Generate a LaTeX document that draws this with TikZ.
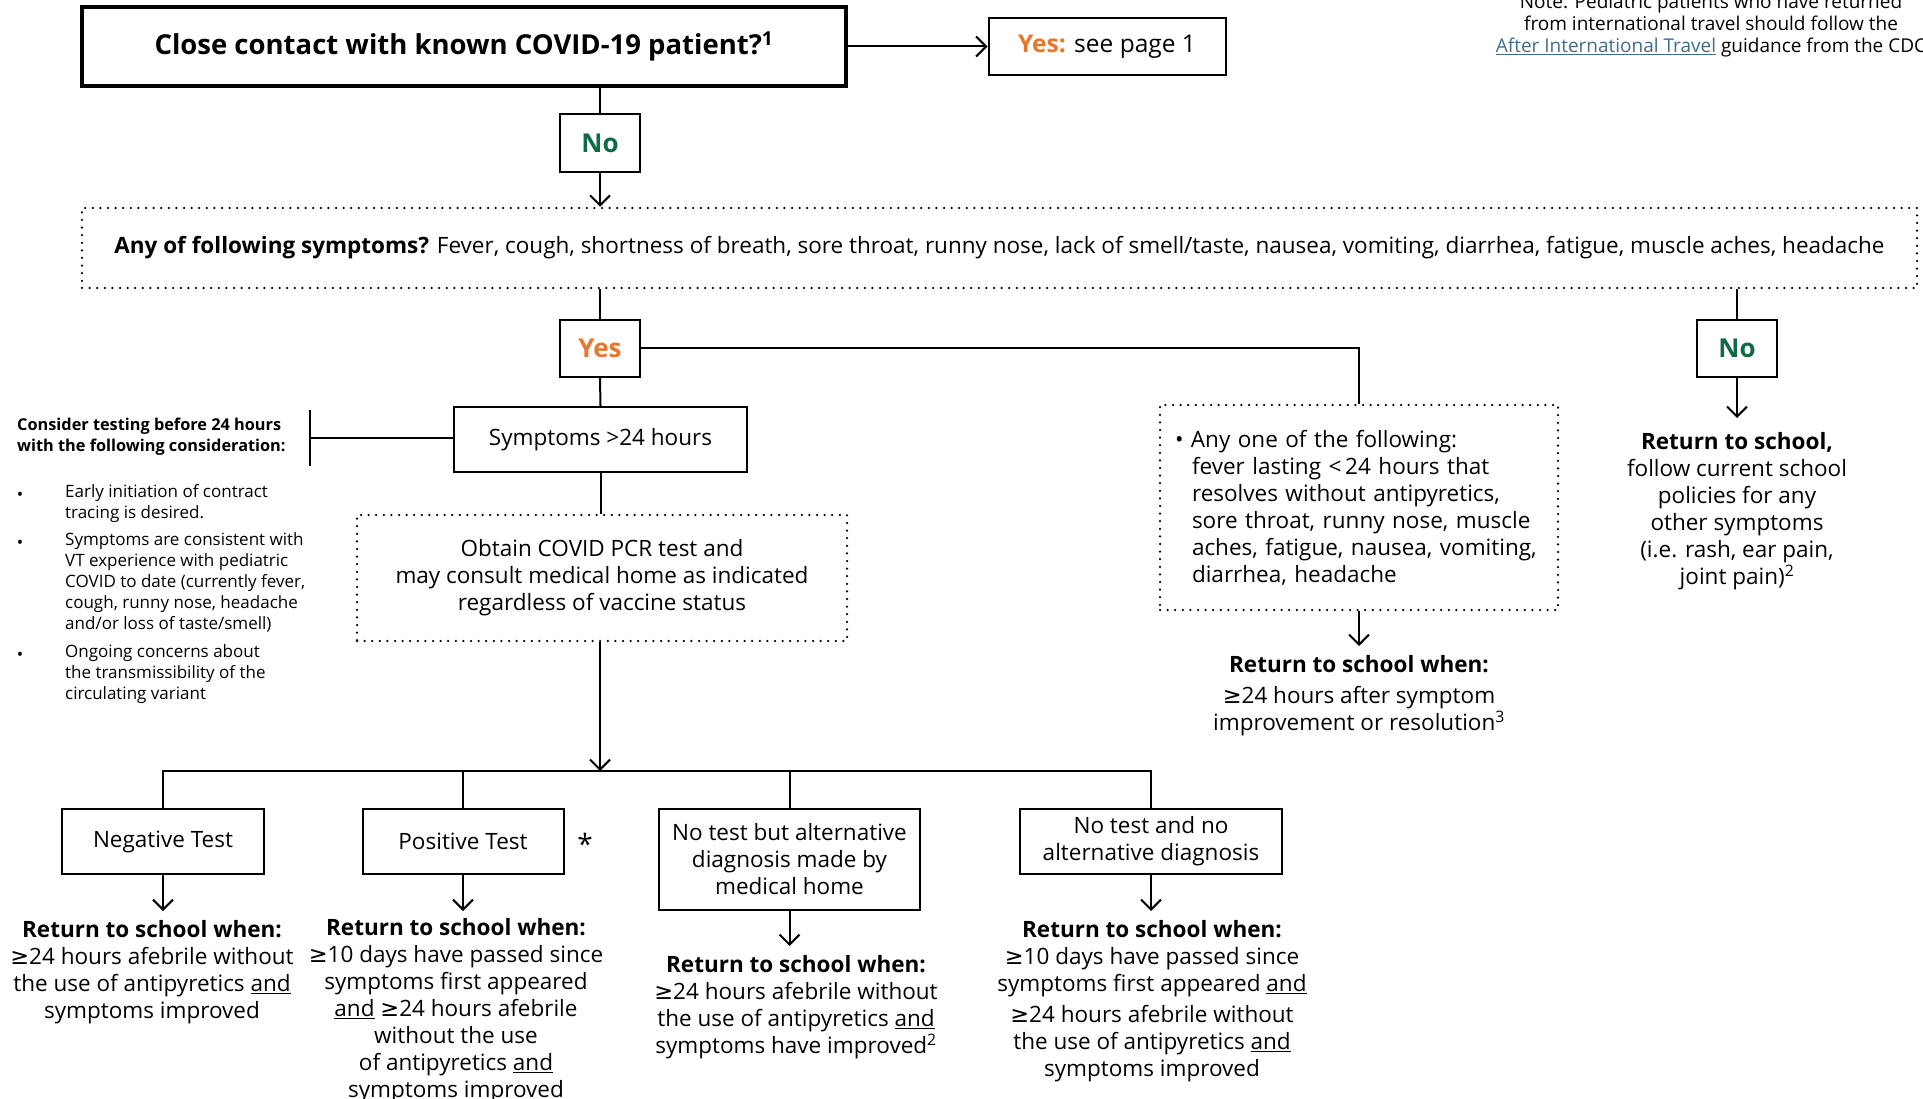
\documentclass[tikz,border=0pt]{standalone}
\usepackage{fontspec}
\setmainfont{Open Sans}
\newfontfamily\symfont{DejaVu Sans}
\usetikzlibrary{arrows.meta}
\definecolor{yesorange}{HTML}{E8762D}
\definecolor{nogreen}{HTML}{0E6B43}
\definecolor{linkblue}{HTML}{3E6D8E}
\newcommand{\atleast}{{\symfont ≥}}
\newcommand{\und}{\underline{and}}
\newcommand{\ind}{\hspace*{17pt}}

\begin{document}
\begin{tikzpicture}[x=1pt,y=-1pt,
  box/.style={draw,line width=2pt,align=center,inner sep=0pt,font=\fontsize{22.5}{27}\selectfont},
  dotbox/.style={draw,line width=2.5pt,dash pattern=on 0pt off 7.6pt,line cap=round,align=center,inner sep=0pt,font=\fontsize{22.5}{27}\selectfont},
  txt/.style={align=center,inner sep=0pt,font=\fontsize{22.5}{27}\selectfont},
  smalltxt/.style={align=left,inner sep=0pt,font=\fontsize{17}{21}\selectfont},
  conn/.style={line width=2pt},
  arr/.style={line width=2pt,-{Straight Barb[length=10pt,width=20pt]}}]
 \path[use as bounding box,fill=white] (0,0) rectangle (1923,1099);
 % first question
 \node[box,line width=4pt,minimum width=764,minimum height=79,font=\bfseries\fontsize{27.5}{30}\selectfont] (close) at (464,46.5) {Close contact with known COVID-19 patient?\textsuperscript{1}};
 \node[box,minimum width=237,minimum height=57,font=\fontsize{24.5}{26}\selectfont] (seep) at (1107,46.5) {\textcolor{yesorange}{\textbf{Yes:}} see page 1};
 \node[txt,font=\fontsize{19}{22}\selectfont] (note) at (1711,25.7) {Note: Pediatric patients who have returned\\from international travel should follow the\\\textcolor{linkblue}{\underline{After International Travel}} guidance from the CDC};
 \node[box,minimum width=80,minimum height=58,font=\bfseries\fontsize{26}{26}\selectfont,text=nogreen] (no) at (600,143) {No};
 \draw[arr] (close.east) -- (seep.west);
 \draw[conn] (close.south -| no.north) -- (no.north);
%
 \node[dotbox,minimum width=1835,minimum height=80] (symq) at (999.5,248) {\textbf{Any of following symptoms?} Fever, cough, shortness of breath, sore throat, runny nose, lack of smell/taste, nausea, vomiting, diarrhea, fatigue, muscle aches, headache};
 \draw[arr] (no.south) -- (no.south |- symq.north);
 \node[box,minimum width=80,minimum height=57,font=\bfseries\fontsize{26}{26}\selectfont,text=yesorange] (yes) at (600,348.5) {Yes};
 \node[box,minimum width=80,minimum height=57,font=\bfseries\fontsize{26}{26}\selectfont,text=nogreen] (noright) at (1737,348.5) {No};
 \draw[conn] (symq.south -| yes.north) -- (yes.north);
 \draw[conn] (symq.south -| noright.north) -- (noright.north);
%
 \node[box,minimum width=293,minimum height=65] (sym) at (600.5,439.5) {Symptoms >24 hours};
 \draw[conn] (yes.south) -- (sym.north);
 \coordinate (tbar) at (310,438);
 \draw[conn] (sym.west |- tbar) -- (tbar);
 \draw[conn] ([yshift=-28pt]tbar) -- ([yshift=28pt]tbar);
 \node[smalltxt,font=\bfseries\fontsize{16.3}{21}\selectfont,anchor=west] (consider) at (17,437) {Consider testing before 24 hours\\with the following consideration:};
 \node[smalltxt,anchor=north west] (item1) at (65,484) {Early initiation of contract\\tracing is desired.};
 \node[smalltxt,anchor=north west] (item2) at (65,532) {Symptoms are consistent with\\VT experience with pediatric\\COVID to date (currently fever,\\cough, runny nose, headache\\and/or loss of taste/smell)};
 \node[smalltxt,anchor=north west] (item3) at (65,644) {Ongoing concerns about\\the transmissibility of the\\circulating variant};
 \node[smalltxt,anchor=north] (dot1) at (20,492) {•};
 \node[smalltxt,anchor=north] (dot2) at (20,540) {•};
 \node[smalltxt,anchor=north] (dot3) at (20,652) {•};
%
 \node[dotbox,minimum width=490,minimum height=126] (pcr) at (602,578) {Obtain COVID PCR test and\\may consult medical home as indicated\\regardless of vaccine status};
 \draw[conn] (sym.south) -- (sym.south |- pcr.north);
 \coordinate (bus) at (600,771);
 \draw[arr] (pcr.south -| bus) -- (bus);
%
 \node[box,minimum width=202,minimum height=65] (neg) at (163,841.5) {Negative Test};
 \node[box,minimum width=201,minimum height=65] (pos) at (463,841.5) {Positive Test};
 \node[txt,font=\fontsize{28}{28}\selectfont] (star) at (585,844) {*};
 \node[box,minimum width=261,minimum height=101] (alt) at (789.5,859.5) {No test but alternative\\diagnosis made by\\medical home};
 \node[box,minimum width=262,minimum height=65] (noalt) at (1151,841.5) {No test and no\\alternative diagnosis};
 \draw[conn] (neg.north) |- (bus) -| (noalt.north);
 \draw[conn] (pos.north) -- (pos.north |- bus);
 \draw[conn] (alt.north) -- (alt.north |- bus);
%
 \node[txt,anchor=north] (negret) at (152,920) {\textbf{Return to school when:}\\\atleast 24 hours afebrile without\\the use of antipyretics \und\\symptoms improved};
 \node[txt,anchor=north] (posret) at (456,918) {\textbf{Return to school when:}\\\atleast 10 days have passed since\\symptoms first appeared\\\und\ \atleast 24 hours afebrile\\without the use\\of antipyretics \und\\symptoms improved};
 \node[txt,anchor=north] (altret) at (796,955) {\textbf{Return to school when:}\\\atleast 24 hours afebrile without\\the use of antipyretics \und\\symptoms have improved\textsuperscript{2}};
 \node[txt,anchor=north] (noaltret) at (1152,920) {\textbf{Return to school when:}\\\atleast 10 days have passed since\\symptoms first appeared \und\\[4pt]\atleast 24 hours afebrile without\\the use of antipyretics \und\\symptoms improved};
 \draw[arr] (neg.south) -- ([yshift=9pt]neg.south |- negret.north);
 \draw[arr] (pos.south) -- ([yshift=7pt]pos.south |- posret.north);
 \draw[arr] (alt.south) -- ([yshift=9pt]alt.south |- altret.north);
 \draw[arr] (noalt.south) -- ([yshift=9pt]noalt.south |- noaltret.north);
%
 \node[dotbox,align=left,text width=368,inner xsep=15pt,minimum height=205] (anyone) at (1359,507.5) {\textbullet\ Any one of the following:\\\ind fever lasting <\,24 hours that\\\ind resolves without antipyretics,\\\ind sore throat, runny nose, muscle\\\ind aches, fatigue, nausea, vomiting,\\\ind diarrhea, headache};
 \draw[conn] (yes.east) -| (anyone.north);
 \node[txt,anchor=north] (anyret) at (1359,655) {\textbf{Return to school when:}\\[4pt]\atleast 24 hours after symptom\\improvement or resolution\textsuperscript{3}};
 \draw[arr] (anyone.south) -- ([yshift=9pt]anyret.north);
 \node[txt,anchor=north] (noret) at (1737,432) {\textbf{Return to school,}\\follow current school\\policies for any\\other symptoms\\(i.e. rash, ear pain,\\joint pain)\textsuperscript{2}};
 \draw[arr] (noright.south) -- ([yshift=14pt]noret.north);
\end{tikzpicture}
\end{document}
